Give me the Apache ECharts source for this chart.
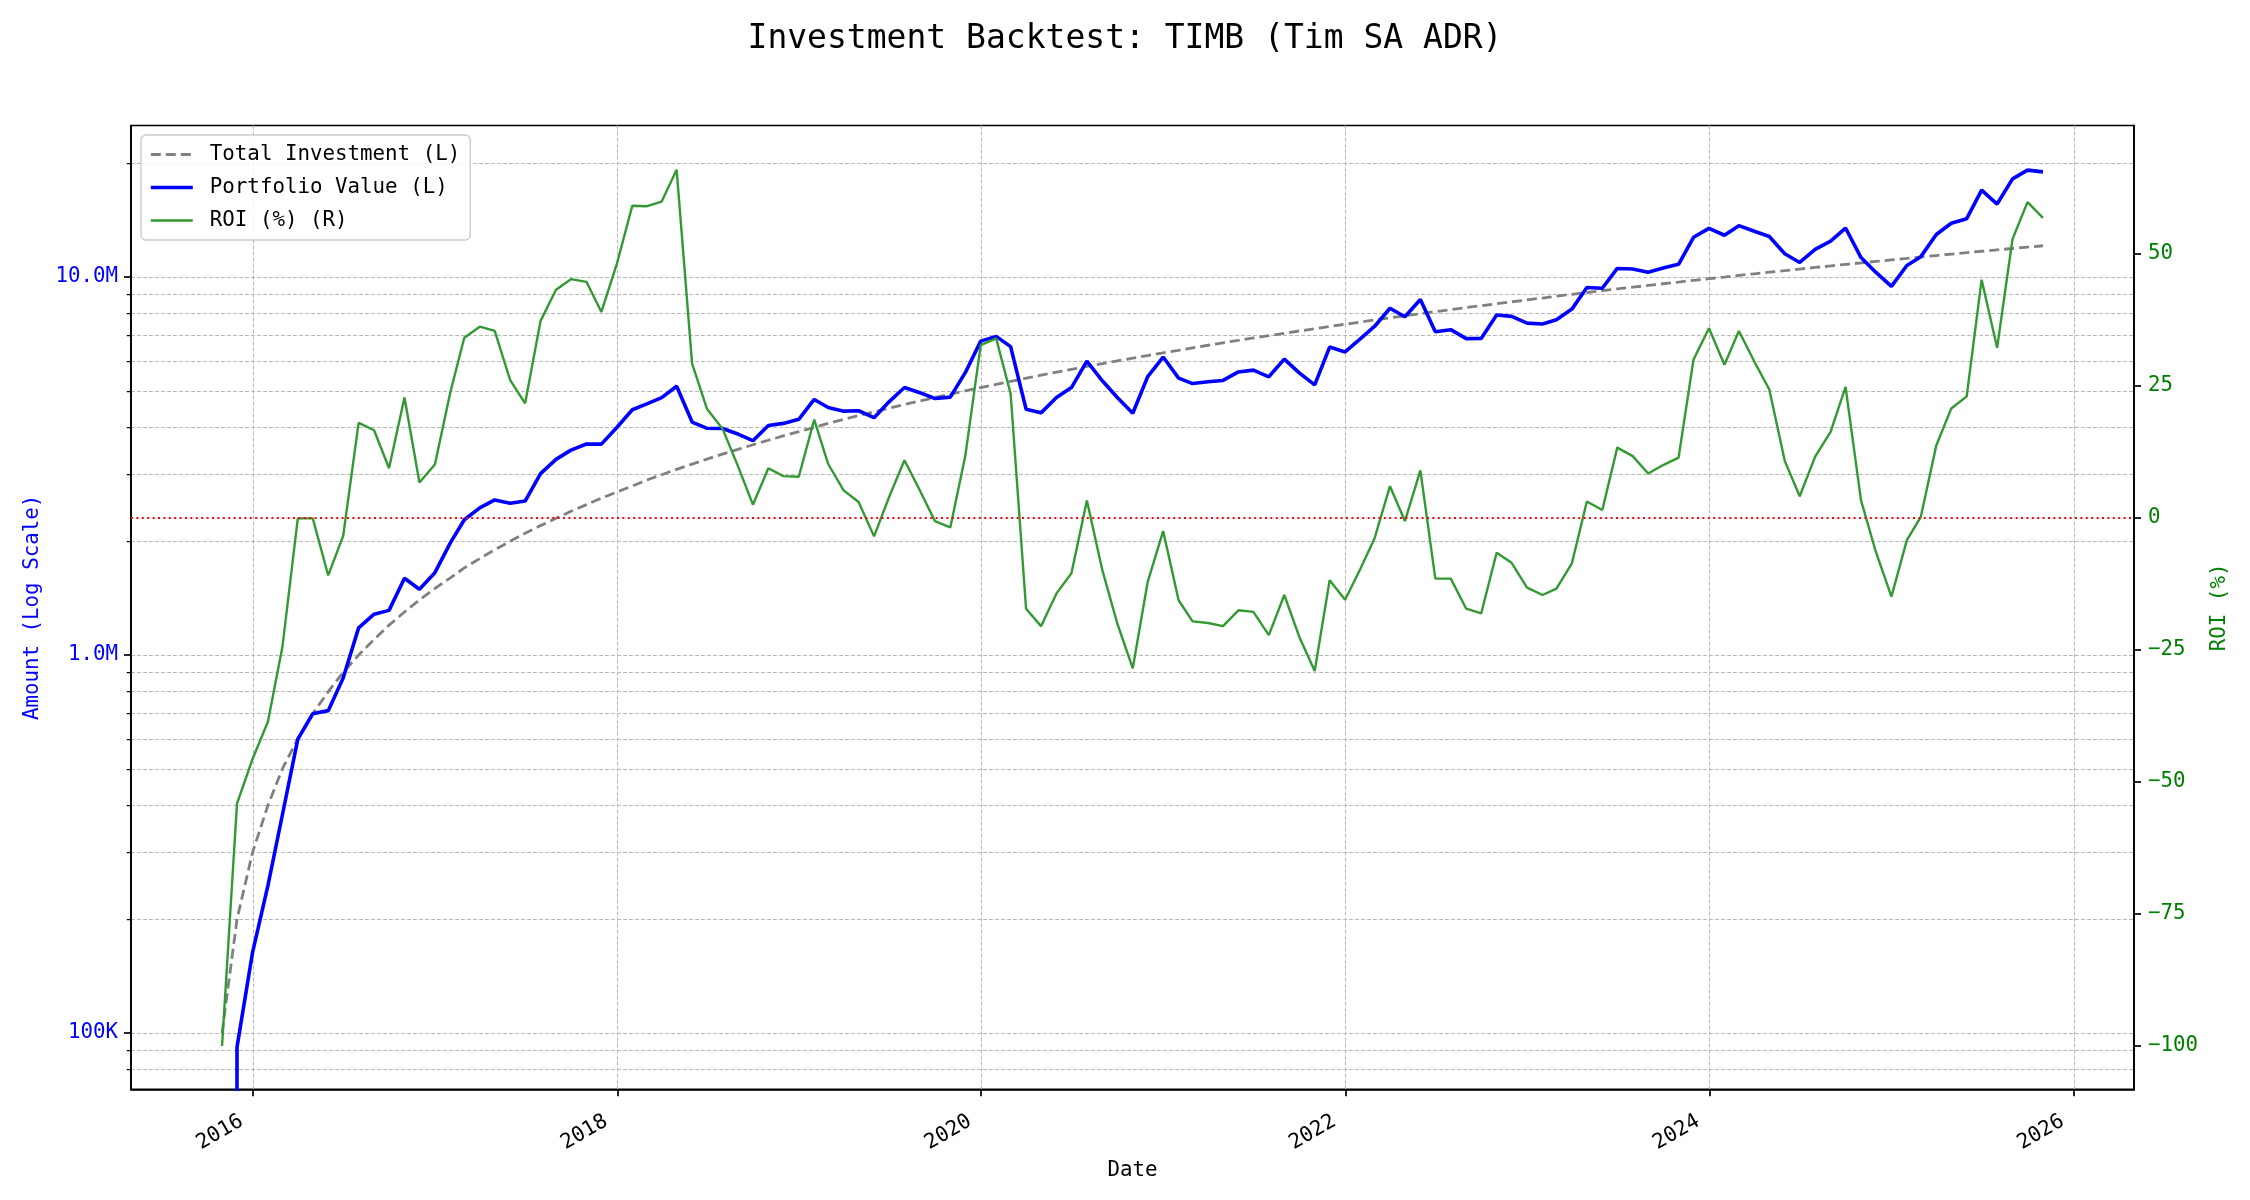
<!DOCTYPE html>
<html>
<head>
<meta charset="utf-8">
<script src="https://cdn.jsdelivr.net/npm/echarts@6/dist/echarts.min.js"></script>
<style>html,body{margin:0;padding:0;background:#fff}#c{width:2250px;height:1200px}</style>
</head>
<body>
<div id="c"></div>
<script>
// ---------------- DATA ----------------
const dates = [
  '2015-10-31','2015-11-30','2015-12-31',
  '2016-01-31','2016-02-29','2016-03-31','2016-04-30','2016-05-31','2016-06-30','2016-07-31','2016-08-31','2016-09-30','2016-10-31','2016-11-30','2016-12-31',
  '2017-01-31','2017-02-28','2017-03-31','2017-04-30','2017-05-31','2017-06-30','2017-07-31','2017-08-31','2017-09-30','2017-10-31','2017-11-30','2017-12-31',
  '2018-01-31','2018-02-28','2018-03-31','2018-04-30','2018-05-31','2018-06-30','2018-07-31','2018-08-31','2018-09-30','2018-10-31','2018-11-30','2018-12-31',
  '2019-01-31','2019-02-28','2019-03-31','2019-04-30','2019-05-31','2019-06-30','2019-07-31','2019-08-31','2019-09-30','2019-10-31','2019-11-30','2019-12-31',
  '2020-01-31','2020-02-29','2020-03-31','2020-04-30','2020-05-31','2020-06-30','2020-07-31','2020-08-31','2020-09-30','2020-10-31','2020-11-30','2020-12-31',
  '2021-01-31','2021-02-28','2021-03-31','2021-04-30','2021-05-31','2021-06-30','2021-07-31','2021-08-31','2021-09-30','2021-10-31','2021-11-30','2021-12-31',
  '2022-01-31','2022-02-28','2022-03-31','2022-04-30','2022-05-31','2022-06-30','2022-07-31','2022-08-31','2022-09-30','2022-10-31','2022-11-30','2022-12-31',
  '2023-01-31','2023-02-28','2023-03-31','2023-04-30','2023-05-31','2023-06-30','2023-07-31','2023-08-31','2023-09-30','2023-10-31','2023-11-30','2023-12-31',
  '2024-01-31','2024-02-29','2024-03-31','2024-04-30','2024-05-31','2024-06-30','2024-07-31','2024-08-31','2024-09-30','2024-10-31','2024-11-30','2024-12-31',
  '2025-01-31','2025-02-28','2025-03-31','2025-04-30','2025-05-31','2025-06-30','2025-07-31','2025-08-31','2025-09-30','2025-10-31'
];

const totalInvestment = [
  100000,200000,300000,400000,500000,600000,700000,800000,900000,1000000,1100000,1200000,1300000,1400000,
  1500000,1600000,1700000,1800000,1900000,2000000,2100000,2200000,2300000,2400000,2500000,2600000,
  2700000,2800000,2900000,3000000,3100000,3200000,3300000,3400000,3500000,3600000,3700000,3800000,
  3900000,4000000,4100000,4200000,4300000,4400000,4500000,4600000,4700000,4800000,4900000,5000000,
  5100000,5200000,5300000,5400000,5500000,5600000,5700000,5800000,5900000,6000000,6100000,6200000,
  6300000,6400000,6500000,6600000,6700000,6800000,6900000,7000000,7100000,7200000,7300000,7400000,
  7500000,7600000,7700000,7800000,7900000,8000000,8100000,8200000,8300000,8400000,8500000,8600000,
  8700000,8800000,8900000,9000000,9100000,9200000,9300000,9400000,9500000,9600000,9700000,9800000,
  9900000,10000000,10100000,10200000,10300000,10400000,10500000,10600000,10700000,10800000,10900000,11000000,
  11100000,11200000,11300000,11400000,11500000,11600000,11700000,11800000,11900000,12000000,12100000
];

const portfolioValue = [
  0,91800,162900,245600,377500,599400,699300,712800,869400,1180000,1282600,1312800,1596400,1493800,
  1651500,1980800,2279700,2451600,2572600,2522000,2555700,3020600,3293600,3484800,3617500,3614000,
  3998700,4454800,4611000,4797000,5142900,4134400,3979800,3974600,3843000,3690000,4047800,4100200,
  4204200,4744000,4518200,4418400,4429000,4246000,4675500,5101400,4944400,4771200,4811800,5585000,
  6767700,6968000,6545500,4471200,4372500,4799200,5101500,5991400,5315900,4800000,4361500,5449800,
  6142500,5401600,5226000,5286600,5326500,5610000,5671800,5446000,6063400,5580000,5183000,6526800,
  6337500,6870400,7399700,8268000,7852600,8720000,7168500,7257000,6872400,6879600,7939000,7869000,
  7551600,7515200,7707400,8226000,9382100,9338000,10536900,10499800,10298000,10560000,10805800,12740000,
  13454100,12900000,13675400,13219200,12802900,11523200,10930500,11829600,12444100,13478400,11259700,10285000,
  9446100,10729600,11322600,12961800,13880500,14268000,16976700,15599600,18183200,19176000,18972800
];

const roiPct = [
  -100,-54.1,-45.7,-38.6,-24.5,-0.1,-0.1,-10.9,-3.4,18.0,16.6,9.4,22.8,6.7,
  10.1,23.8,34.1,36.2,35.4,26.1,21.7,37.3,43.2,45.2,44.7,39.0,
  48.1,59.1,59.0,59.9,65.9,29.2,20.6,16.9,9.8,2.5,9.4,7.9,
  7.8,18.6,10.2,5.2,3.0,-3.5,3.9,10.9,5.2,-0.6,-1.8,11.7,
  32.7,34.0,23.5,-17.2,-20.5,-14.3,-10.5,3.3,-9.9,-20.0,-28.5,-12.1,
  -2.5,-15.6,-19.6,-19.9,-20.5,-17.5,-17.8,-22.2,-14.6,-22.5,-29.0,-11.8,
  -15.5,-9.6,-3.9,6.0,-0.6,9.0,-11.5,-11.5,-17.2,-18.1,-6.6,-8.5,
  -13.2,-14.6,-13.4,-8.6,3.1,1.5,13.3,11.7,8.4,10.0,11.4,30.0,
  35.9,29.0,35.4,29.6,24.3,10.8,4.1,11.6,16.3,24.8,3.3,-6.5,
  -14.9,-4.2,0.2,13.7,20.7,23.0,45.1,32.2,52.8,59.8,56.8
];

const breakEvenRoi = 0;
const leftMajorTicks = [100000, 1000000, 10000000];
const leftMinorTicks = [80000, 90000,
  200000, 300000, 400000, 500000, 600000, 700000, 800000, 900000,
  2000000, 3000000, 4000000, 5000000, 6000000, 7000000, 8000000, 9000000,
  20000000];
const rightTicks = [-100, -75, -50, -25, 0, 25, 50];
const yearTicks = ['2016-01-01','2018-01-01','2020-01-01','2022-01-01','2024-01-01','2026-01-01'];

const titleText = 'Investment Backtest: TIMB (Tim SA ADR)';
const seriesNames = ['Total Investment (L)', 'Portfolio Value (L)', 'ROI (%) (R)'];

// ---------------- CHART ----------------
const FONT = "'DejaVu Sans Mono', monospace";
const toT = s => { const p = s.split('-').map(Number); return Date.UTC(p[0], p[1] - 1, p[2]); };
const times = dates.map(toT);
const t0 = times[0], tN = times[times.length - 1];
const xMin = t0 - 0.05 * (tN - t0);
const xMax = tN + 0.05 * (tN - t0);
const yearTickTimes = yearTicks.map(toT);

const LOG_MIN = 71000, LOG_MAX = 25170000;
const ROI_MIN = -108.2, ROI_MAX = 74.3;

const gridLine = { color: '#b8b8b8', width: 1, type: [4, 2] };
const black = '#000000';

const styleInv = { color: '#808080', width: 2.8, type: [10, 5] };
const stylePort = { color: '#0000ff', width: 3.6, type: 'solid' };
const styleRoi = { color: '#339933', width: 2.4, type: 'solid' };
const styleZero = { color: '#ff0000', width: 2, type: [2, 3.4], cap: 'butt' };

const fmtAmount = v => v >= 1e6 ? (v / 1e6).toFixed(1) + 'M' : Math.round(v / 1e3) + 'K';
const fmtRoi = v => v < 0 ? '\u2212' + Math.abs(v) : String(v);
const fmtYear = v => String(new Date(v).getUTCFullYear());

const chart = echarts.init(document.getElementById('c'), null, { renderer: 'canvas', width: 2250, height: 1200 });

chart.setOption({
  animation: false,
  backgroundColor: '#ffffff',
  title: {
    text: titleText,
    left: 'center',
    top: 18,
    textStyle: { fontFamily: FONT, fontSize: 33, fontWeight: 'normal', color: '#000' }
  },
  grid: {
    left: 131, top: 125.5, width: 2003, height: 963.8,
    show: true, borderColor: black, borderWidth: 1.7, backgroundColor: 'transparent',
    containLabel: false
  },
  legend: {
    orient: 'vertical',
    left: 141, top: 135,
    padding: [9, 10, 9, 8],
    itemWidth: 42, itemHeight: 20, itemGap: 12,
    backgroundColor: 'rgba(255,255,255,0.85)',
    borderColor: '#cccccc', borderWidth: 1.4, borderRadius: 5,
    itemStyle: { opacity: 0 },
    textStyle: { fontFamily: FONT, fontSize: 20.8, color: '#000', padding: [0, 0, 0, 12], lineHeight: 20 },
    data: [
      { name: seriesNames[0], lineStyle: styleInv },
      { name: seriesNames[1], lineStyle: stylePort },
      { name: seriesNames[2], lineStyle: styleRoi }
    ]
  },
  xAxis: {
    type: 'value',
    min: xMin, max: xMax,
    axisLine: { show: true, onZero: false, lineStyle: { color: black, width: 1.7 } },
    axisTick: { show: true, customValues: yearTickTimes, length: 7, lineStyle: { color: black, width: 1.7 } },
    axisLabel: {
      customValues: yearTickTimes,
      formatter: fmtYear,
      rotate: 30, margin: 24, padding: [0, 13, 0, 0],
      fontFamily: FONT, fontSize: 20.8, color: '#000'
    },
    splitLine: { show: true, lineStyle: gridLine },
    name: 'Date', nameLocation: 'middle', nameGap: 69,
    nameTextStyle: { fontFamily: FONT, fontSize: 20.8, color: '#000' }
  },
  yAxis: [
    {
      type: 'log', logBase: 10, min: LOG_MIN, max: LOG_MAX, position: 'left',
      axisLine: { show: true, onZero: false, lineStyle: { color: black, width: 1.7 } },
      axisTick: { show: true, customValues: leftMajorTicks, length: 7, lineStyle: { color: black, width: 1.7 } },
      axisLabel: { customValues: leftMajorTicks, formatter: fmtAmount, color: '#0000ff', fontFamily: FONT, fontSize: 20.8, margin: 13 },
      splitLine: { show: true, lineStyle: gridLine },
      name: 'Amount (Log Scale)', nameLocation: 'middle', nameGap: 88,
      nameTextStyle: { fontFamily: FONT, fontSize: 20.8, color: '#0000ff' }
    },
    {
      type: 'log', logBase: 10, min: LOG_MIN, max: LOG_MAX, position: 'left',
      axisLine: { show: false, onZero: false },
      axisTick: { show: true, customValues: leftMinorTicks, length: 4.2, lineStyle: { color: black, width: 1.25 } },
      axisLabel: { show: false },
      splitLine: { show: true, lineStyle: gridLine }
    },
    {
      type: 'value', min: ROI_MIN, max: ROI_MAX, position: 'right',
      axisLine: { show: true, onZero: false, lineStyle: { color: black, width: 1.7 } },
      axisTick: { show: true, customValues: rightTicks, length: 7, lineStyle: { color: black, width: 1.7 } },
      axisLabel: { customValues: rightTicks, formatter: fmtRoi, color: '#008000', fontFamily: FONT, fontSize: 20.8, margin: 14 },
      splitLine: { show: false },
      name: 'ROI (%)', nameLocation: 'middle', nameGap: 67, nameRotate: 90,
      nameTextStyle: { fontFamily: FONT, fontSize: 20.8, color: '#008000' }
    }
  ],
  series: [
    {
      name: seriesNames[0], type: 'line', yAxisIndex: 0, symbol: 'none', z: 2,
      lineStyle: styleInv,
      itemStyle: { color: styleInv.color },
      data: times.map((t, i) => [t, totalInvestment[i]])
    },
    {
      name: seriesNames[1], type: 'line', yAxisIndex: 0, symbol: 'none', z: 3,
      lineStyle: stylePort,
      itemStyle: { color: stylePort.color },
      data: times.map((t, i) => [t, portfolioValue[i] > 0 ? portfolioValue[i] : 1e-300])
    },
    {
      name: seriesNames[2], type: 'line', yAxisIndex: 2, symbol: 'none', z: 4,
      lineStyle: styleRoi,
      itemStyle: { color: styleRoi.color },
      data: times.map((t, i) => [t, roiPct[i]])
    },
    {
      // break-even reference line spanning the full axis range (like axhline)
      name: 'breakEven', type: 'line', yAxisIndex: 2, symbol: 'none', z: 5, silent: true,
      lineStyle: styleZero,
      itemStyle: { color: styleZero.color },
      data: [[xMin, breakEvenRoi], [xMax, breakEvenRoi]]
    }
  ]
});
</script>
</body>
</html>
